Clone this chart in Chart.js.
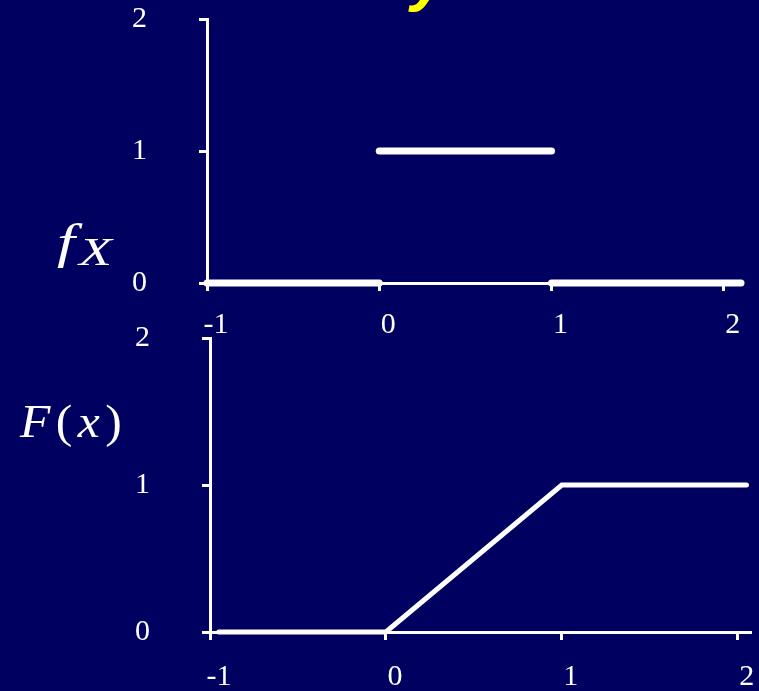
<!DOCTYPE html>
<html>
<head>
<meta charset="utf-8">
<script src="https://cdn.jsdelivr.net/npm/chart.js@4/dist/chart.umd.min.js"></script>
<style>
  html, body { margin: 0; padding: 0; background: #000060; overflow: hidden; }
  #wrap { position: relative; width: 759px; height: 691px; }
  canvas { position: absolute; left: 0; }
  #densityChart { top: 0; }
  #cdfChart { top: 315px; }
  .lbl { position: absolute; color: #fff; font-family: "Liberation Serif", serif; font-style: italic; white-space: nowrap; line-height: 1; transform-origin: 0 0; }
  .up { font-style: normal; }
  #ydeco { position: absolute; left: 411px; top: -55px; color: #ffff00; font: italic bold 64px "Liberation Sans", sans-serif; line-height: 64px; }
</style>
</head>
<body>
<div id="wrap">
  <div id="ydeco">y</div>
  <canvas id="densityChart" width="759" height="345"></canvas>
  <canvas id="cdfChart" width="759" height="376"></canvas>
  <div class="lbl" style="left:57px; top:218px; font-size:48px; transform:scaleX(1.35);">f<span style="font-size:40px; position:relative; top:7px; left:3px;">X</span></div>
  <div class="lbl" style="left:20px; top:399px; font-size:46px; letter-spacing:5px; transform:scaleX(1.08);">F<span class="up">(</span>x<span class="up">)</span></div>
</div>
<script>
// axis ticks
const xTicks = [-1, 0, 1, 2];
const yTicks = [0, 1, 2];

// density f_X: three flat pieces
const densityStartX = [-1, 0, 1];
const densityEndX = [0, 1, 2.1];
const densityY = [0, 1, 0];

// distribution F(x)
const cdfX = [-0.95, 0, 1, 2.05];
const cdfY = [0, 0, 1, 1];

const tickFont = { family: "Liberation Serif", size: 30 };

// fixed axis sizes, and no extra label padding pushed into the layout
function fixSize(prop, size) {
  return s => {
    s[prop] = size;
    s.paddingTop = s.paddingBottom = s.paddingLeft = s.paddingRight = 0;
  };
}

function axes(xMax, xPad, xHeight) {
  return {
    x: {
      type: 'linear', min: -1, max: xMax,
      afterBuildTicks: s => { s.ticks = xTicks.map(v => ({ value: v })); },
      afterFit: fixSize('height', xHeight),
      border: { color: '#fff', width: 3 },
      grid: { drawOnChartArea: false, color: '#fff', lineWidth: 3, tickLength: 8 },
      ticks: { color: '#fff', font: tickFont, padding: xPad, labelOffset: 9, maxRotation: 0 }
    },
    y: {
      type: 'linear', min: 0, max: 2,
      afterBuildTicks: s => { s.ticks = yTicks.map(v => ({ value: v })); },
      afterFit: fixSize('width', 80),
      border: { color: '#fff', width: 3 },
      grid: { drawOnChartArea: false, color: '#fff', lineWidth: 3, tickLength: 8 },
      ticks: { color: '#fff', font: tickFont, padding: 52 }
    }
  };
}

const baseOptions = {
  responsive: false,
  animation: false,
  events: [],
  plugins: { legend: { display: false }, tooltip: { enabled: false } },
  elements: { point: { radius: 0 } }
};

// top: density pieces
new Chart(document.getElementById('densityChart'), {
  type: 'scatter',
  data: {
    datasets: densityY.map((y, i) => ({
      data: [{ x: densityStartX[i], y: y }, { x: densityEndX[i], y: y }],
      showLine: true,
      borderColor: '#fff',
      borderWidth: 7,
      borderCapStyle: 'round',
      clip: false
    }))
  },
  options: Object.assign({}, baseOptions, {
    layout: { padding: { left: 127, top: 19, right: 18, bottom: 7 } },
    scales: axes(2.1, 16, 55)
  })
});

// bottom: distribution function
new Chart(document.getElementById('cdfChart'), {
  type: 'scatter',
  data: {
    datasets: [{
      data: cdfX.map((x, i) => ({ x: x, y: cdfY[i] })),
      showLine: true,
      borderColor: '#fff',
      borderWidth: 5,
      borderCapStyle: 'round',
      clip: false
    }]
  },
  options: Object.assign({}, baseOptions, {
    layout: { padding: { left: 130, top: 23, right: 9, bottom: 0 } },
    scales: axes(2.07, 19, 59)
  })
});
</script>
</body>
</html>
